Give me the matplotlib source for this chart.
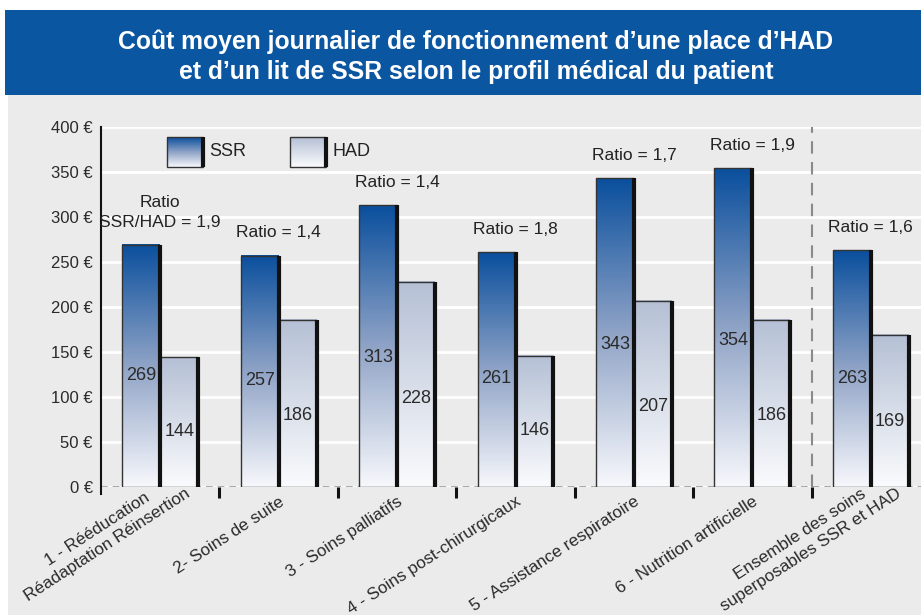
import numpy as np
import matplotlib
matplotlib.use("Agg")
import matplotlib.pyplot as plt
from matplotlib.colors import LinearSegmentedColormap
from matplotlib.patches import Rectangle
from matplotlib.ticker import FixedLocator
from matplotlib.transforms import ScaledTranslation

categories = ["1 - Rééducation\nRéadaptation Réinsertion", "2- Soins de suite",
              "3 - Soins palliatifs", "4 - Soins post-chirurgicaux",
              "5 - Assistance respiratoire", "6 - Nutrition artificielle",
              "Ensemble des soins\nsuperposables SSR et HAD"]
ssr = [269, 257, 313, 261, 343, 354, 263]
had = [144, 186, 228, 146, 207, 186, 169]
ratios = ["Ratio\nSSR/HAD = 1,9", "Ratio = 1,4", "Ratio = 1,4", "Ratio = 1,8",
          "Ratio = 1,7", "Ratio = 1,9", "Ratio = 1,6"]
yticks = [0, 50, 100, 150, 200, 250, 300, 350, 400]
ytick_labels = ["0 €", "50 €", "100 €", "150 €", "200 €", "250 €", "300 €", "350 €", "400 €"]
title = "Coût moyen journalier de fonctionnement d\u2019une place d\u2019HAD\net d\u2019un lit de SSR selon le profil médical du patient"

plt.rcParams["font.family"] = ["Liberation Sans", "DejaVu Sans"]

W, H = 921, 615
fig = plt.figure(figsize=(W / 100, H / 100), dpi=100, facecolor="white")

# background panels
fig.patches.append(Rectangle((8 / W, 0), 1, 1 - 95 / H, transform=fig.transFigure,
                             facecolor="#ebebeb", edgecolor="none", zorder=-5))
fig.patches.append(Rectangle((5 / W, 1 - 95 / H), 1, 85 / H, transform=fig.transFigure,
                             facecolor="#0b56a1", edgecolor="none", zorder=-4))
fig.text(476 / W, 1 - 57 / H, title, ha="center", va="center", color="white",
         fontsize=17.8, fontweight="bold", linespacing=1.3)

ax = fig.add_axes([101 / W, 1 - 487 / H, 829 / W, 360 / H])
ax.set_facecolor("#ebebeb")

cmap_ssr = LinearSegmentedColormap.from_list("ssr", ["#f7f8fc", "#8fa3c6", "#0a4f9d"])
cmap_had = LinearSegmentedColormap.from_list("had", ["#fafbfd", "#b5c0d5"])
grad = np.linspace(0, 1, 256).reshape(-1, 1)

x = np.arange(len(categories))
w = 0.32
bars_s = ax.bar(x - w / 2, ssr, w, facecolor="none", edgecolor="#333333", lw=1, zorder=3)
bars_h = ax.bar(x + w / 2, had, w, facecolor="none", edgecolor="#333333", lw=1, zorder=3)

for bars, cmap in ((bars_s, cmap_ssr), (bars_h, cmap_had)):
    for p in bars:
        x0, y0 = p.get_x(), p.get_y()
        x1, y1 = x0 + p.get_width(), y0 + p.get_height()
        ax.imshow(grad, cmap=cmap, extent=[x0, x1, y0, y1], origin="lower",
                  aspect="auto", zorder=2, interpolation="bilinear")
        ax.plot([x1, x1], [y0, y1], color="#111111", lw=3, zorder=4,
                solid_capstyle="butt")

for i in range(len(x)):
    ax.text(x[i] - w / 2, ssr[i] * 0.46, str(ssr[i]), ha="center", va="center",
            fontsize=13, color="#2a2a2a", zorder=5)
    ax.text(x[i] + w / 2, had[i] * 0.43, str(had[i]), ha="center", va="center",
            fontsize=13, color="#2a2a2a", zorder=5)
    ax.annotate(ratios[i], (x[i], ssr[i]), xytext=(0, 11), textcoords="offset points",
                ha="center", va="bottom", fontsize=12.5, color="#222222",
                multialignment="center", linespacing=1.35, zorder=5)

ax.set_xlim(-0.5, len(x) - 0.5)
ax.set_ylim(0, 400)
ax.set_yticks(yticks)
ax.set_yticklabels(ytick_labels, fontsize=12, color="#2a2a2a")
ax.yaxis.grid(True, color="white", lw=2)
ax.set_axisbelow(True)
ax.tick_params(axis="y", length=0, pad=6)

ax.set_xticks(x)
ax.set_xticklabels(categories, rotation=33, ha="right", rotation_mode="anchor",
                   multialignment="center", fontsize=12.3, color="#2a2a2a",
                   linespacing=1.35)
ax.tick_params(axis="x", which="major", length=0, pad=5)
for lbl in ax.get_xticklabels():
    if "\n" in lbl.get_text():
        lbl.set_transform(lbl.get_transform() +
                          ScaledTranslation(0.14, 0.24, fig.dpi_scale_trans))
ax.xaxis.set_minor_locator(FixedLocator(np.arange(0.5, len(x) - 0.5, 1)))
ax.tick_params(axis="x", which="minor", length=8, width=2.2, color="#111111")

for s in ("top", "right", "bottom"):
    ax.spines[s].set_visible(False)
ax.spines["left"].set_color("#111111")
ax.spines["left"].set_linewidth(1.5)
ax.spines["left"].set_bounds(-8, 400)

ax.axhline(0, color="#9a9a9a", lw=1.2, ls=(0, (4, 3)), zorder=1)
ax.axvline(5.5, color="#8a8a8a", lw=1.5, ls=(0, (6, 4)), zorder=1)

# legend
for lx, cmap, lab in ((0.08, cmap_ssr, "SSR"), (0.228, cmap_had, "HAD")):
    lw_ = 0.043
    ax.imshow(grad, cmap=cmap, extent=[lx, lx + lw_, 0.89, 0.972], origin="lower",
              aspect="auto", transform=ax.transAxes, zorder=5)
    ax.add_patch(Rectangle((lx, 0.89), lw_, 0.082, transform=ax.transAxes,
                           facecolor="none", edgecolor="#333333", lw=1, zorder=6))
    ax.plot([lx + lw_, lx + lw_], [0.89, 0.972], transform=ax.transAxes,
            color="#111111", lw=3, zorder=6, solid_capstyle="butt")
    ax.text(lx + lw_ + 0.008, 0.931, lab, transform=ax.transAxes, ha="left",
            va="center", fontsize=13, color="#222222", zorder=6)

ax.set_xlim(-0.5, len(x) - 0.5)
ax.set_ylim(0, 400)

fig.savefig("out.png", dpi=100, facecolor=fig.get_facecolor())
